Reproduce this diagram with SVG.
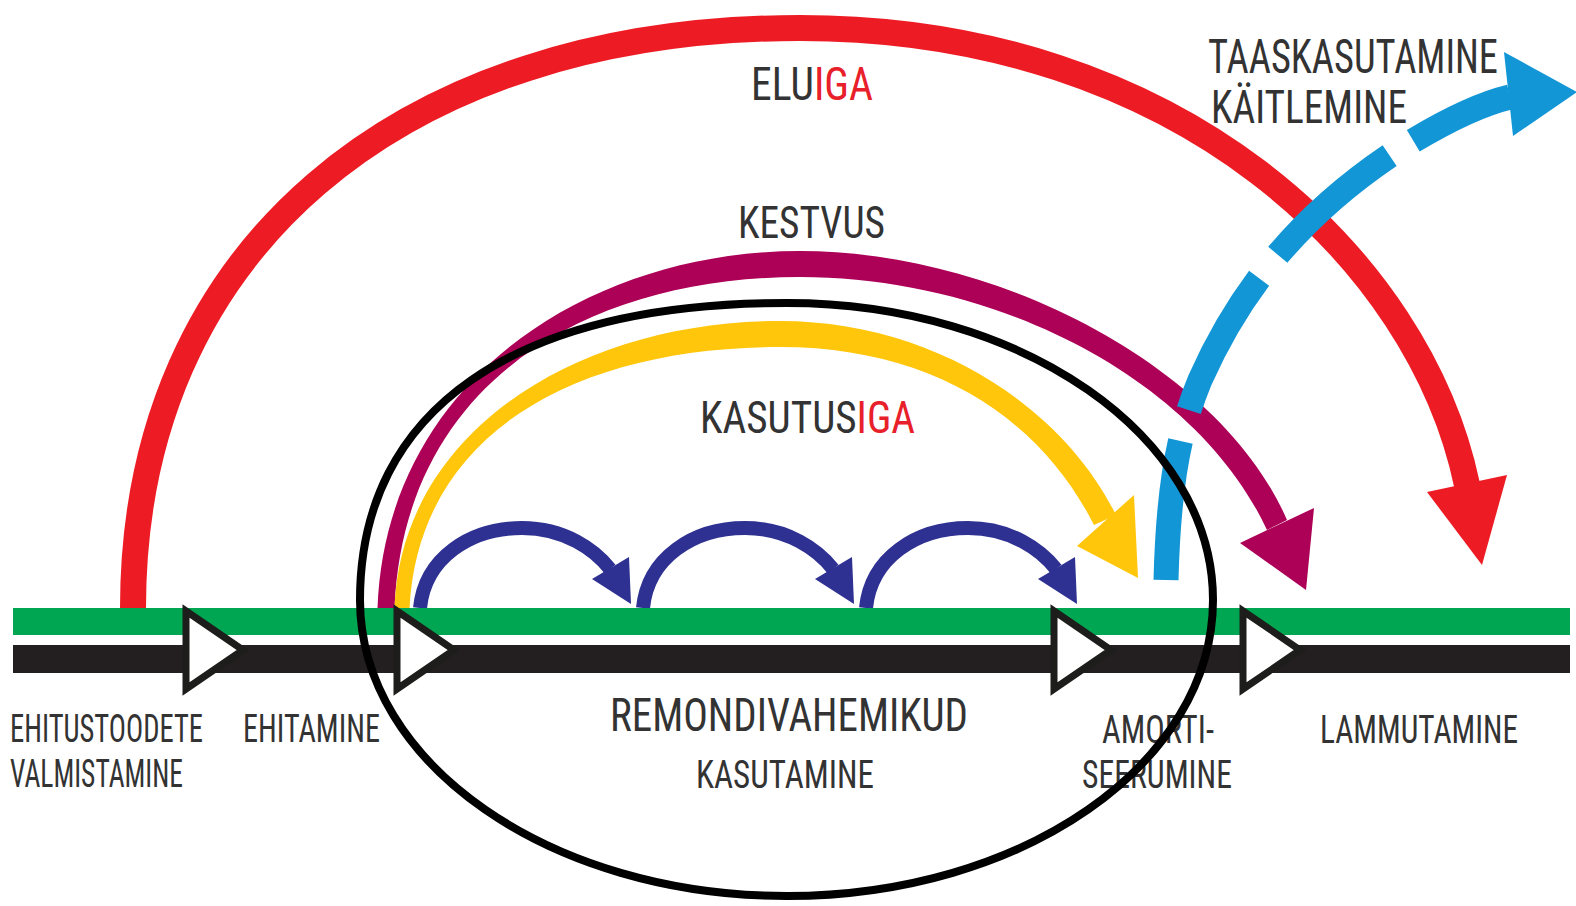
<svg xmlns="http://www.w3.org/2000/svg" width="1576" height="906" viewBox="0 0 1576 906">
<style>
.lbl{font-family:"Roboto Condensed","DejaVu Sans Condensed","Liberation Sans Narrow",Roboto,sans-serif;font-weight:400;fill:#333333;}
.red{fill:#e8202a;}
.tri{fill:#ffffff;stroke:#1d1d1b;stroke-width:7;stroke-linejoin:miter;}
.redc{fill:none;stroke:#ed1c24;stroke-width:26;}
.redf{fill:#ed1c24;}
.pur{fill:#ad0057;}
.yel{fill:#ffc60b;}
.dbl{fill:none;stroke:#2e3192;stroke-width:14;}
.dblf{fill:#2e3192;}
.cya{fill:none;stroke:#1396d6;stroke-width:25;stroke-dasharray:140 32 150 30 150 28 400;}
.cyaf{fill:#1396d6;}
</style>
<rect width="1576" height="906" fill="#ffffff"/>
<g id="connectors">
  <g id="eluiga-arc">
    <path class="redc" d="M133,608 C133,250 400,28 800,28 C1180,28 1420,260 1467,485"/>
    <polygon class="redf" points="1427,492 1507,475 1482,565"/>
  </g>
  <g id="kestvus-arc">
    <path class="pur" d="M377.5,608 C386,380 590,251 800,251 C1000,251 1222,369 1287,520 L1267,530 C1198,381 1000,277 800,277 C590,277 404,380 394.5,608 Z"/>
    <polygon class="pur" points="1240,543 1314,508 1306,590"/>
  </g>
  <g id="kasutusiga-arc">
    <path class="yel" d="M394.5,608 C401,430 580,321 780,321 C930,321 1061,404 1116,515 L1094,525 C1039,416 930,347 780,347 C580,347 419,430 409.5,608 Z"/>
    <polygon class="yel" points="1077,546 1134,495 1138,578"/>
  </g>
  <g id="remont-arcs">
    <path class="dbl" d="M420,608 C425,558 470,528 522,528 C565,528 595,550 610,569"/>
    <polygon class="dblf" points="592,579 629,557 631,604"/>
    <path class="dbl" d="M643,608 C648,558 693,528 745,528 C788,528 818,550 833,569"/>
    <polygon class="dblf" points="815,579 852,557 854,604"/>
    <path class="dbl" d="M866,608 C871,558 916,528 968,528 C1011,528 1041,550 1056,569"/>
    <polygon class="dblf" points="1038,579 1075,557 1077,604"/>
  </g>
  <g id="taaskasutamine-arc">
    <path class="cya" d="M1166,580 C1168,500 1175,440 1200,380 C1240,290 1300,215 1395,152 C1430,130 1472,106 1510,97"/>
    <polygon class="cyaf" points="1504,52 1577,92 1513,136"/>
  </g>
</g>
<g id="timeline">
  <rect x="13" y="608" width="1557" height="27" fill="#00a651"/>
  <rect x="13" y="645" width="1557" height="28" fill="#231f20"/>
</g>
<g id="stage-1"><polygon class="tri" points="186,611 186,689 243,650"/></g>
<g id="stage-2"><polygon class="tri" points="397,611 397,689 454,650"/></g>
<g id="stage-3"><polygon class="tri" points="1054,611 1054,689 1111,650"/></g>
<g id="stage-4"><polygon class="tri" points="1243,611 1243,689 1300,650"/></g>
<g id="labels">
  <g id="label-eluiga">
    <text class="lbl" x="751" y="100" font-size="46" textLength="122" lengthAdjust="spacingAndGlyphs">ELU<tspan class="red">IGA</tspan></text>
  </g>
  <g id="label-kestvus">
    <text class="lbl" x="738" y="238" font-size="44" textLength="147" lengthAdjust="spacingAndGlyphs">KESTVUS</text>
  </g>
  <g id="label-kasutusiga">
    <text class="lbl" x="700" y="433" font-size="44" textLength="215" lengthAdjust="spacingAndGlyphs">KASUTUS<tspan class="red">IGA</tspan></text>
  </g>
  <g id="label-taaskasutamine">
    <text class="lbl" x="1208" y="73" font-size="48" textLength="290" lengthAdjust="spacingAndGlyphs">TAASKASUTAMINE</text>
    <text class="lbl" x="1211" y="123" font-size="46" textLength="196" lengthAdjust="spacingAndGlyphs">KÄITLEMINE</text>
  </g>
  <g id="label-ehitustoodete">
    <text class="lbl" x="10" y="742" font-size="38" textLength="193" lengthAdjust="spacingAndGlyphs">EHITUSTOODETE</text>
    <text class="lbl" x="10" y="787" font-size="38" textLength="173" lengthAdjust="spacingAndGlyphs">VALMISTAMINE</text>
  </g>
  <g id="label-ehitamine">
    <text class="lbl" x="243" y="742" font-size="38" textLength="137" lengthAdjust="spacingAndGlyphs">EHITAMINE</text>
  </g>
  <g id="label-remondivahemikud">
    <text class="lbl" x="610" y="731" font-size="47" textLength="358" lengthAdjust="spacingAndGlyphs">REMONDIVAHEMIKUD</text>
  </g>
  <g id="label-kasutamine">
    <text class="lbl" x="696" y="788" font-size="38" textLength="178" lengthAdjust="spacingAndGlyphs">KASUTAMINE</text>
  </g>
  <g id="label-amortiseerumine">
    <text class="lbl" x="1102" y="743" font-size="38" textLength="112" lengthAdjust="spacingAndGlyphs">AMORTI-</text>
    <text class="lbl" x="1082" y="788" font-size="38" textLength="150" lengthAdjust="spacingAndGlyphs">SEERUMINE</text>
  </g>
  <g id="label-lammutamine">
    <text class="lbl" x="1320" y="743" font-size="38" textLength="198" lengthAdjust="spacingAndGlyphs">LAMMUTAMINE</text>
  </g>
</g>
<g id="focus-ellipse">
  <path d="M360,600 C360,410 514,303 787,303 C1022,303 1213,436 1213,600 C1213,764 1022,896 787,896 C551,896 360,764 360,600 Z" fill="none" stroke="#000000" stroke-width="8"/>
</g>
</svg>
